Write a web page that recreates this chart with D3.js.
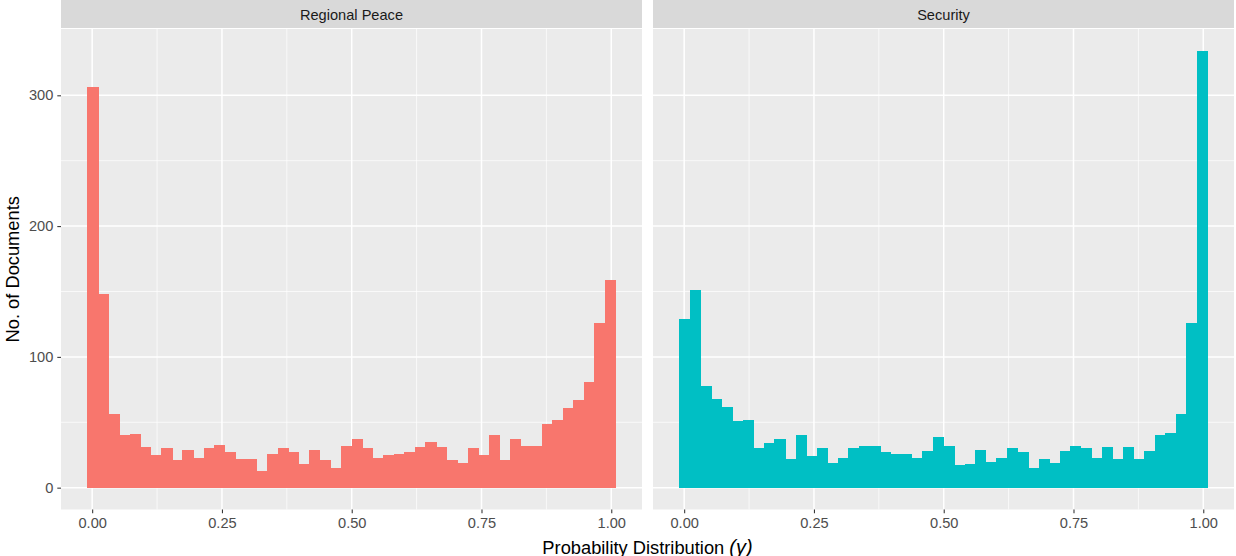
<!DOCTYPE html>
<html>
<head>
<meta charset="utf-8">
<script src="https://cdn.jsdelivr.net/npm/d3@7"></script>
<style>
html,body{margin:0;padding:0;background:#fff;}
svg{display:block;font-family:"Liberation Sans",Arial,sans-serif;}
</style>
</head>
<body>
<svg id="chart" width="1236" height="556"></svg>
<script>
// ---- data ----
const facets = ["Regional Peace", "Security"];
const colors = ["#F8766D", "#00BFC4"];
const regionalPeace = [306,148,56,40,41,31,25,30,21,29,23,30,33,27,22,22,13,26,30,27,18,29,21,15,32,37,30,23,25,26,27,31,35,31,21,19,30,25,40,21,37,32,32,49,52,61,67,81,126,159];
const security = [129,151,78,68,62,51,52,30,34,37,22,40,24,30,19,23,30,32,32,27,26,26,23,28,39,32,17,18,29,20,23,30,27,15,22,19,28,32,30,23,31,22,31,22,28,40,42,56,126,334];
const binCenterFirst = 0.001;
const binWidth = 0.02035;
const xTicks = [0, 0.25, 0.5, 0.75, 1];
const xMinor = [0.125, 0.375, 0.625, 0.875];
const yTicks = [0, 100, 200, 300];
const yMinor = [50, 150, 250];
const series = [regionalPeace, security];

const svg = d3.select("#chart");
const panelTop = 29, panelBottom = 509.5, stripTop = 0;
const panels = [{x0: 61, x1: 642}, {x0: 653, x1: 1234}];

const nb = regionalPeace.length;
const e0 = binCenterFirst - binWidth / 2;
const e1 = e0 + nb * binWidth;
const R = e1 - e0;
const maxCount = d3.max(series.flat());

const y = d3.scaleLinear()
  .domain([-0.05 * maxCount, 1.05 * maxCount])
  .range([panelBottom, panelTop]);

panels.forEach((p, k) => {
  const x = d3.scaleLinear()
    .domain([e0 - 0.05 * R, e1 + 0.05 * R])
    .range([p.x0, p.x1]);
  const g = svg.append("g");
  // strip
  g.append("rect").attr("x", p.x0).attr("y", stripTop).attr("width", p.x1 - p.x0).attr("height", 28).attr("fill", "#D9D9D9");
  g.append("text").attr("x", (p.x0 + p.x1) / 2).attr("y", 19.5).attr("text-anchor", "middle")
    .attr("font-size", "14.6px").attr("fill", "#1A1A1A").text(facets[k]);
  // panel bg
  g.append("rect").attr("x", p.x0).attr("y", panelTop).attr("width", p.x1 - p.x0).attr("height", panelBottom - panelTop).attr("fill", "#EBEBEB");
  // minor grid
  g.selectAll(".ym").data(yMinor).join("line")
    .attr("x1", p.x0).attr("x2", p.x1).attr("y1", d => y(d)).attr("y2", d => y(d))
    .attr("stroke", "#fff").attr("stroke-width", 0.7);
  g.selectAll(".xm").data(xMinor).join("line")
    .attr("y1", panelTop).attr("y2", panelBottom).attr("x1", d => x(d)).attr("x2", d => x(d))
    .attr("stroke", "#fff").attr("stroke-width", 0.7);
  // major grid
  g.selectAll(".yM").data(yTicks).join("line")
    .attr("x1", p.x0).attr("x2", p.x1).attr("y1", d => y(d)).attr("y2", d => y(d))
    .attr("stroke", "#fff").attr("stroke-width", 1.5);
  g.selectAll(".xM").data(xTicks).join("line")
    .attr("y1", panelTop).attr("y2", panelBottom).attr("x1", d => x(d)).attr("x2", d => x(d))
    .attr("stroke", "#fff").attr("stroke-width", 1.5);
  // bars
  g.selectAll(".bar").data(series[k]).join("rect")
    .attr("x", (d, i) => x(e0 + i * binWidth))
    .attr("width", (d, i) => x(e0 + (i + 1) * binWidth) - x(e0 + i * binWidth) + 0.6)
    .attr("y", d => y(d))
    .attr("height", d => y(0) - y(d))
    .attr("shape-rendering", "crispEdges")
    .attr("fill", colors[k]);
  // x axis
  const xa = d3.axisBottom(x).tickValues(xTicks).tickFormat(d3.format(".2f")).tickSize(3.7).tickPadding(4);
  const xg = g.append("g").attr("transform", `translate(0,${panelBottom})`).call(xa);
  xg.select(".domain").remove();
  xg.selectAll(".tick line").attr("stroke", "#333333").attr("stroke-width", 1.07);
  xg.selectAll(".tick text").attr("fill", "#4D4D4D").attr("font-size", "14.6px")
    .attr("font-family", "Liberation Sans, Arial, sans-serif");
  if (k === 0) {
    const ya = d3.axisLeft(y).tickValues(yTicks).tickSize(3.7).tickPadding(4);
    const yg = g.append("g").attr("transform", `translate(${p.x0},0)`).call(ya);
    yg.select(".domain").remove();
    yg.selectAll(".tick line").attr("stroke", "#333333").attr("stroke-width", 1.07);
    yg.selectAll(".tick text").attr("fill", "#4D4D4D").attr("font-size", "14.6px")
      .attr("font-family", "Liberation Sans, Arial, sans-serif");
  }
});

// axis titles
svg.append("text").attr("transform", `translate(19,${(panelTop + panelBottom) / 2}) rotate(-90)`)
  .attr("text-anchor", "middle").attr("font-size", "18.3px").attr("fill", "#000").text("No. of Documents");
const xt = svg.append("text").attr("x", (panels[0].x0 + panels[1].x1) / 2).attr("y", 553.5)
  .attr("text-anchor", "middle").attr("font-size", "18.3px").attr("fill", "#000");
xt.append("tspan").text("Probability Distribution ");
xt.append("tspan").attr("font-style", "italic").attr("font-size", "20px").text("(γ)");
</script>
</body>
</html>
